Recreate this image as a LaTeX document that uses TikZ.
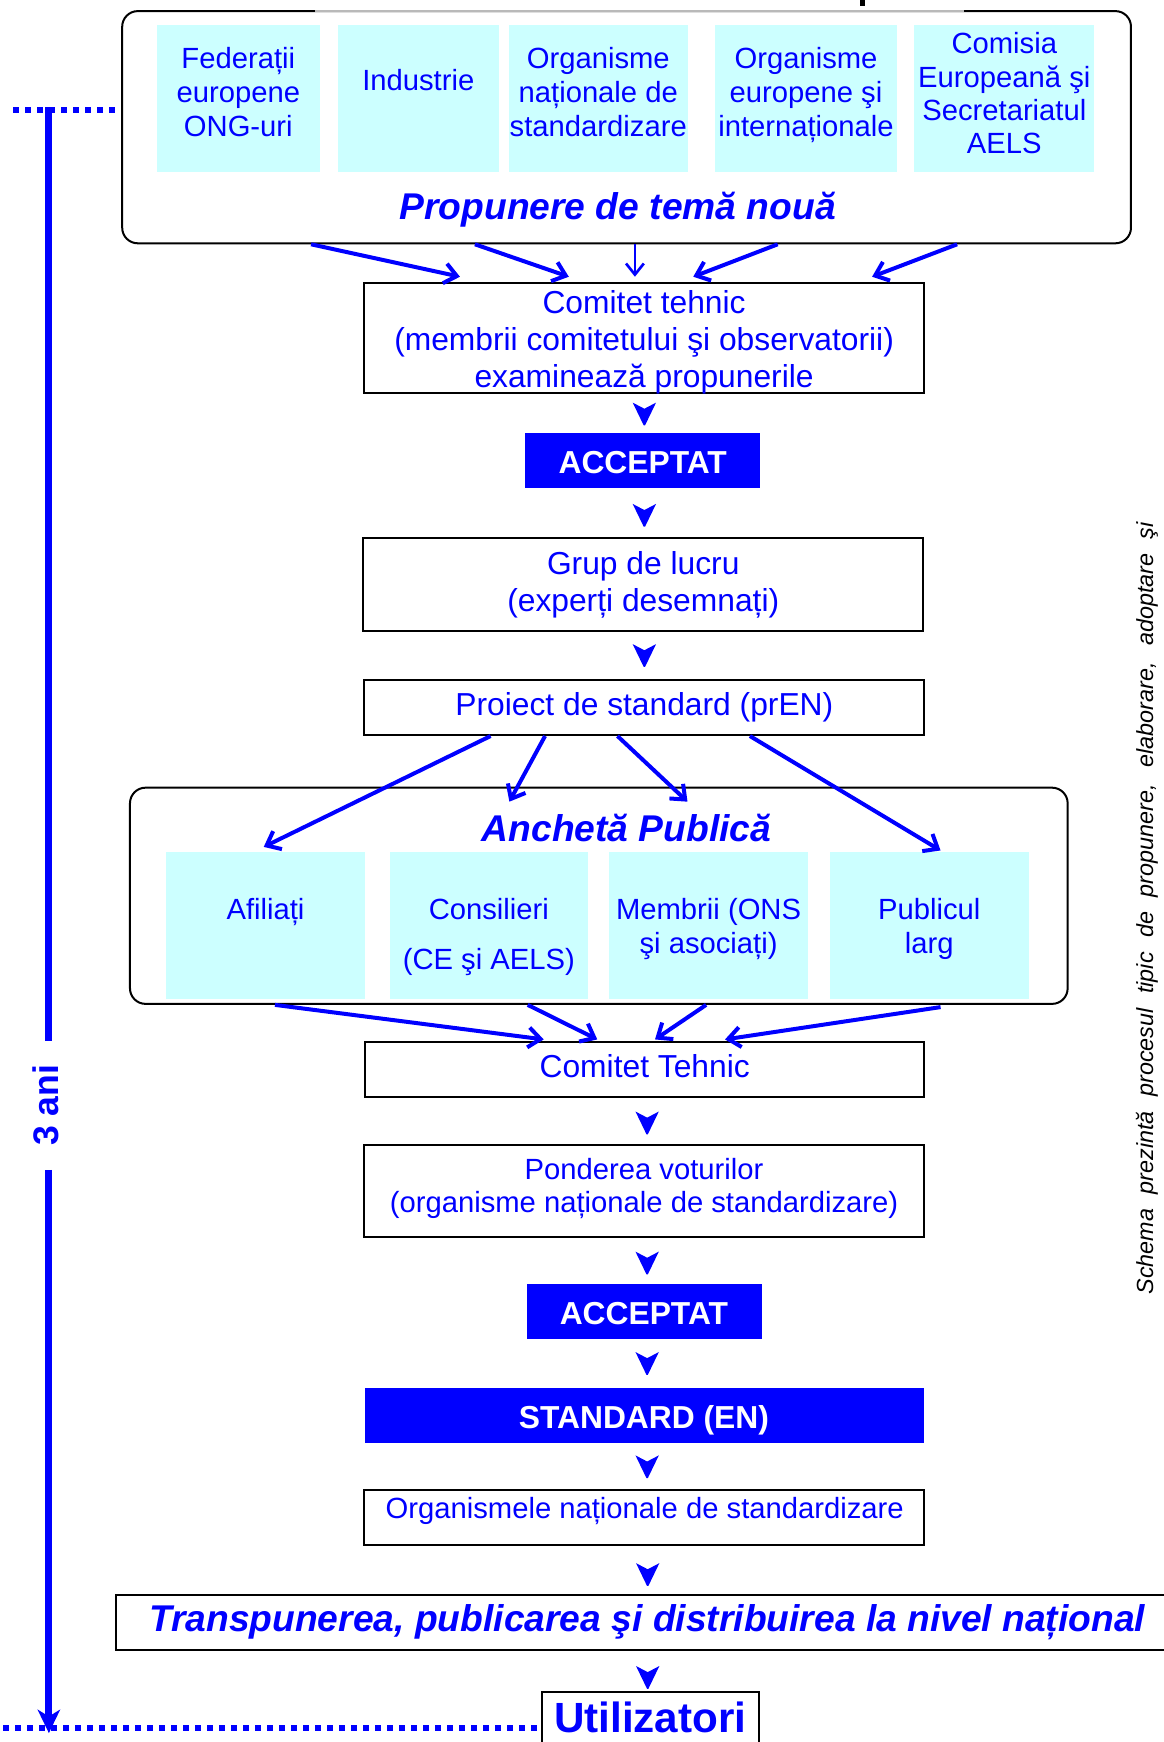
\documentclass[tikz,border=0pt]{standalone}
\usepackage{fontspec}
\setmainfont{Liberation Sans}
\usetikzlibrary{arrows.meta}
\definecolor{bl}{RGB}{0,0,255}
\definecolor{cy}{RGB}{204,255,255}
\newcommand\fs[1]{\fontsize{#1}{#1}\selectfont}
\tikzset{
 bx/.style={draw=black, line width=1.8pt, inner sep=0pt, fill=white},
 cyb/.style={fill=cy, draw=none, inner sep=0pt},
 bfill/.style={fill=bl, draw=none, inner sep=0pt},
 rbx/.style={draw=black, line width=1.8pt, rounded corners=14pt, inner sep=0pt},
 tx/.style={anchor=base, inner sep=0pt, text=bl, font=\fs{28.6}},
 txs/.style={anchor=base, inner sep=0pt, text=bl, font=\fs{26.3}},
 txb/.style={anchor=base, inner sep=0pt, text=white, font=\bfseries\fs{28.6}},
 txbi/.style={anchor=base, inner sep=0pt, text=bl, font=\bfseries\itshape\fs{33.5}},
 arr/.style={draw=bl, line width=3.6pt, -{Straight Barb[length=11pt,width=18pt]}},
 arrthin/.style={draw=bl, line width=2.4pt, -{Straight Barb[length=10pt,width=16pt]}},
 dots/.style={draw=bl, line width=5pt, dash pattern=on 5pt off 5.8pt},
 vline/.style={draw=bl, line width=6.5pt},
}
\newcommand\mkbox[6]{\node[#2, minimum width={#5pt-#3pt}, minimum height={#6pt-#4pt}] (#1) at ({(#3+#5)/2},{(#4+#6)/2}) {};}
\newcommand\ahead[2]{\fill[bl] ({#1-10.5},#2) -- (#1,{#2+5.5}) -- ({#1+10.5},#2) -- ({#1+0.6},{#2+20.5}) -- ({#1-0.6},{#2+20.5}) -- cycle;}
\begin{document}
\begin{tikzpicture}[x=1pt,y=-1pt]
\useasboundingbox (0,0) rectangle (1047,1568);
\fill[white] (0,0) rectangle (1047,1568);
% ---------- top group
\mkbox{top}{rbx}{110}{10}{1018}{219}
\draw[gray!55, line width=1.8pt] (283.6,10) -- (868,10);
\fill[black] (774,0) rectangle (779,5);
\mkbox{c1}{cyb}{141}{22.5}{288}{154.5}
\mkbox{c2}{cyb}{304}{22.5}{449}{154.5}
\mkbox{c3}{cyb}{458}{22.5}{619}{154.5}
\mkbox{c4}{cyb}{644}{22.5}{807}{154.5}
\mkbox{c5}{cyb}{823}{22.5}{985}{154.5}
\node[txs] (t1a) at (214.5,61.5) {Federații};
\node[txs] (t1b) at (214.5,92) {europene};
\node[txs] (t1c) at (214.5,122.5) {ONG-uri};
\node[txs] (t2a) at (376.5,81.5) {Industrie};
\node[txs] (t3a) at (538.5,61.5) {Organisme};
\node[txs] (t3b) at (538.5,92) {naționale de};
\node[txs] (t3c) at (538.5,122.5) {standardizare};
\node[txs] (t4a) at (725.5,61.5) {Organisme};
\node[txs] (t4b) at (725.5,92) {europene şi};
\node[txs] (t4c) at (725.5,122.5) {internaționale};
\node[txs] (t5a) at (904,48.5) {Comisia};
\node[txs] (t5b) at (904,78.5) {Europeană şi};
\node[txs] (t5c) at (904,108.5) {Secretariatul};
\node[txs] (t5d) at (904,138.5) {AELS};
\node[txbi] (prop) at (556,198) {Propunere de temă nouă};
% ---------- comitet tehnic 1
\mkbox{com1}{bx}{328}{254.4}{831.5}{353.5}
\node[tx] (k1) at (579.75,282.6) {Comitet tehnic};
\node[tx] (k2) at (579.75,315.5) {(membrii comitetului şi observatorii)};
\node[tx] (k3) at (579.75,348.5) {examinează propunerile};
\draw[arr] ([xshift=-284pt]top.south) -- ([xshift=-165.75pt,yshift=4.4pt]com1.north);
\draw[arr] ([xshift=-136.5pt]top.south) -- ([xshift=-67.75pt,yshift=4.4pt]com1.north);
\draw[arrthin] ([xshift=7.5pt]top.south) -- ([xshift=-8.25pt,yshift=4.4pt]com1.north);
\draw[arr] ([xshift=136pt]top.south) -- ([xshift=44.25pt,yshift=4.4pt]com1.north);
\draw[arr] ([xshift=297.5pt]top.south) -- ([xshift=205.25pt,yshift=4.4pt]com1.north);
% ---------- acceptat 1
\ahead{580}{362.4}
\mkbox{acc1}{bfill}{472.6}{389.8}{683.7}{439}
\node[txb] (acc1t) at (578.5,426) {ACCEPTAT};
\ahead{580}{453.6}
% ---------- grup de lucru
\mkbox{grup}{bx}{327}{484.5}{831}{567.6}
\node[tx] (g1) at (579,517) {Grup de lucru};
\node[tx] (g2) at (579,550) {(experți desemnați)};
\ahead{580}{579.8}
% ---------- proiect
\mkbox{proi}{bx}{328}{612}{831.5}{661.6}
\node[tx] (p1) at (580,643.6) {Proiect de standard (prEN)};
% ---------- ancheta
\mkbox{anch}{rbx}{117}{709}{961}{903.6}
\mkbox{a1}{cyb}{149.6}{766.9}{328.6}{899.2}
\mkbox{a2}{cyb}{351}{766.9}{529}{899.2}
\mkbox{a3}{cyb}{548}{766.9}{727.5}{899.2}
\mkbox{a4}{cyb}{747}{766.9}{926}{899.2}
\node[txbi] (anct) at (564,757.5) {Anchetă Publică};
\node[txs] (a1t) at (239,828) {Afiliați};
\node[txs] (a2t) at (440,828) {Consilieri};
\node[txs] (a2u) at (440,872.5) {(CE şi AELS)};
\node[txs] (a3t) at (637.8,828) {Membrii (ONS};
\node[txs] (a3u) at (637.8,858) {şi asociați)};
\node[txs] (a4t) at (836.5,828) {Publicul};
\node[txs] (a4u) at (836.5,858) {larg};
\draw[arr] ([xshift=-138.15pt]proi.south) -- ([xshift=-1.7pt,yshift=4.4pt]a1.north);
\draw[arr] ([xshift=-89.15pt]proi.south) -- ([xshift=-80.5pt,yshift=-13.5pt]anch.north);
\draw[arr] ([xshift=-23.95pt]proi.south) -- ([xshift=79.8pt,yshift=-13.5pt]anch.north);
\draw[arr] ([xshift=95.25pt]proi.south) -- ([xshift=10.1pt,yshift=1.2pt]a4.north);
% ---------- comitet tehnic 2
\mkbox{com2}{bx}{328.5}{937.5}{831.5}{987}
\node[tx] (ct) at (580.3,969.7) {Comitet Tehnic};
\draw[arr] ([xshift=-291.5pt]anch.south) -- ([xshift=-90.6pt,yshift=1pt]com2.north);
\draw[arr] ([xshift=-64pt]anch.south) -- ([xshift=-42.4pt,yshift=1pt]com2.north);
\draw[arr] ([xshift=96.6pt]anch.south) -- ([xshift=9.6pt,yshift=1pt]com2.north);
\draw[arr] ([xshift=307.6pt,yshift=-2pt]anch.south) -- ([xshift=72.6pt,yshift=1pt]com2.north);
\ahead{582.5}{1000.5}
% ---------- ponderea
\mkbox{pond}{bx}{328}{1030.6}{831.5}{1113}
\node[txs] (po1) at (579.7,1061.5) {Ponderea voturilor};
\node[txs] (po2) at (579.7,1091.5) {(organisme naționale de standardizare)};
\ahead{582.5}{1126.6}
\mkbox{acc2}{bfill}{474.3}{1155.8}{685.6}{1205}
\node[txb] (acc2t) at (579.6,1192) {ACCEPTAT};
\ahead{582.5}{1217}
\mkbox{std}{bfill}{328.4}{1249.5}{831.5}{1298.5}
\node[txb] (stdt) at (579.6,1285.7) {STANDARD (EN)};
\ahead{582.5}{1310}
\mkbox{orgn}{bx}{328}{1341}{831.5}{1390.6}
\node[txs] (orgt) at (580.3,1366.6) {Organismele naționale de standardizare};
\ahead{583}{1407}
\mkbox{transp}{bx}{104.8}{1435.6}{1062}{1485}
\node[txbi] (trt) at (582.5,1468.4) {Transpunerea, publicarea şi distribuirea la nivel național};
\ahead{583}{1499.6}
\mkbox{util}{bx}{487.5}{1522.6}{683}{1590}
\node[anchor=base, inner sep=0pt, text=bl, font=\bfseries\fs{38}] (utt) at (585.3,1559.6) {Utilizatori};
% ---------- left time line
\coordinate (dtl) at (12,99);
\coordinate (dtr) at (104,99);
\coordinate (vtop) at (44,96.5);
\coordinate (vg1) at (44,937);
\coordinate (vg2) at (44,1053);
\coordinate (vbot) at (44,1560);
\coordinate (dbl) at (3,1555.5);
\draw[dots] (dtl) -- (dtr);
\draw[dots, line width=5.5pt] (dbl) -- (util.west |- dbl);
\draw[vline] (vtop) -- (vg1);
\draw[vline, -{Stealth[length=21pt,width=20pt,inset=6pt]}] (vg2) -- (vbot);
\node[anchor=base, inner sep=0pt, text=bl, font=\bfseries\fs{32}, rotate=90] (ani) at (53,995) {3 ani};
% ---------- right note
\node[anchor=base, inner sep=0pt, text=black, font=\itshape\fs{21}, rotate=90] (note) at (1038,817.5)
 {\makebox[695pt][s]{Schema prezintă procesul tipic de propunere, elaborare, adoptare şi}};
\end{tikzpicture}
\end{document}
